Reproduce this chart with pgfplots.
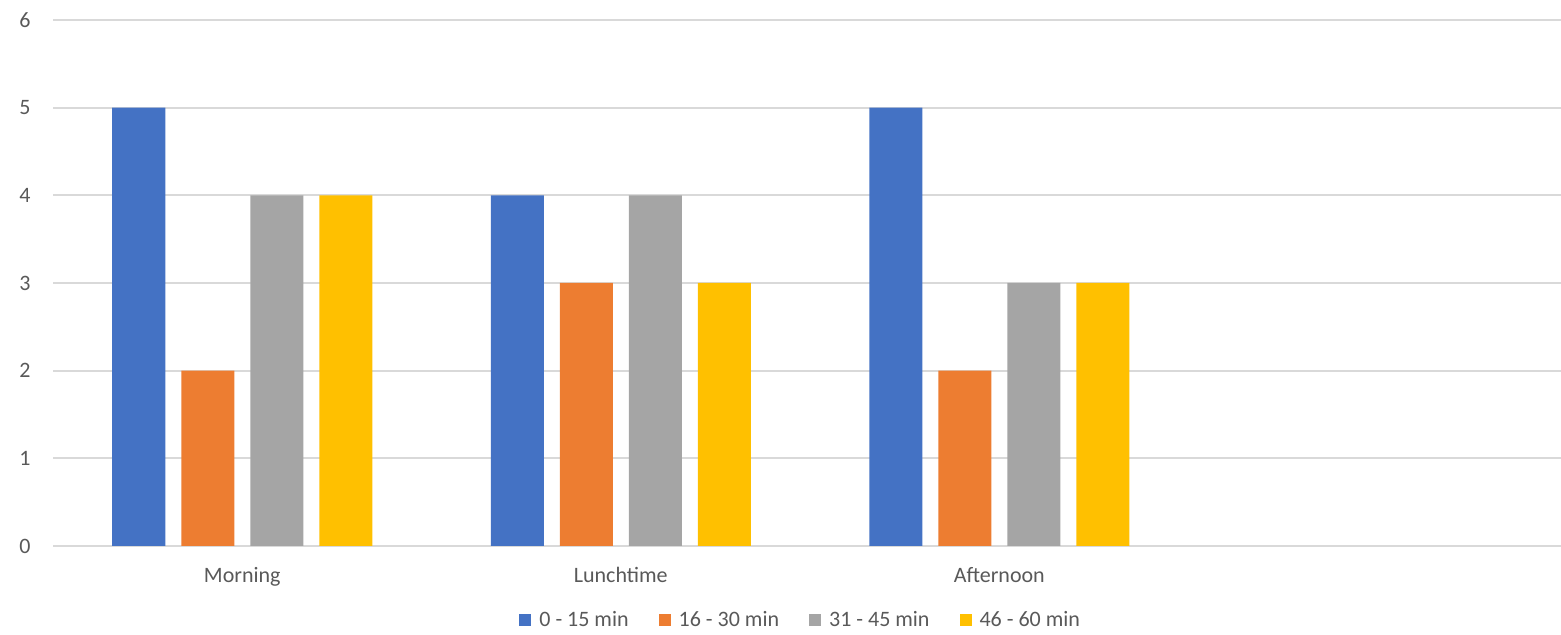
\documentclass[border=0pt]{standalone}
\usepackage{fontspec}
\setmainfont{Carlito}
\usepackage{pgfplots}
\pgfplotsset{compat=1.18}
\definecolor{cBlue}{HTML}{4472C4}
\definecolor{cOrange}{HTML}{ED7D31}
\definecolor{cGray}{HTML}{A5A5A5}
\definecolor{cGold}{HTML}{FFC000}
\definecolor{gridc}{HTML}{D9D9D9}
\definecolor{txt}{HTML}{595959}
\begin{document}
\begin{tikzpicture}
% page is fixed; the plot area runs slightly past the right edge
\useasboundingbox (-26.5pt,-44.5pt) rectangle (754pt,273pt);
\begin{axis}[
  at={(0,0)}, anchor=south west,
  scale only axis, width=757pt, height=263pt,
  ybar=8pt, bar width=26.5pt,
  xmin=-0.5, xmax=3.5,
  ymin=0, ymax=6, ytick={0,...,6},
  xtick={0,1,2,3},
  xticklabels={Morning,Lunchtime,Afternoon,{}},
  axis line style={draw=none},
  major tick length=0pt,
  ymajorgrids, grid style={gridc, line width=1pt},
  /pgf/number format/assume math mode=true,
  tick label style={font=\fontsize{11}{13}\selectfont, text=txt},
  yticklabel style={anchor=east, inner sep=0pt, xshift=-11pt},
  xticklabel style={anchor=base, inner sep=0pt, yshift=-18.5pt},
  legend style={at={(0.4945,0)}, anchor=center, yshift=-37pt, draw=none,
    font=\fontsize{11}{13}\selectfont, text=txt, legend columns=4,
    /tikz/every odd column/.append style={column sep=2pt},
    /tikz/every even column/.append style={column sep=13pt}},
  legend image code/.code={\fill[#1] (-3pt,-3pt) rectangle (3pt,3pt);},
]
\addplot[fill=cBlue, draw=none] coordinates {(0,5) (1,4) (2,5)};
\addplot[fill=cOrange, draw=none] coordinates {(0,2) (1,3) (2,2)};
\addplot[fill=cGray, draw=none] coordinates {(0,4) (1,4) (2,3)};
\addplot[fill=cGold, draw=none] coordinates {(0,4) (1,3) (2,3)};
\legend{0 - 15 min, 16 - 30 min, 31 - 45 min, 46 - 60 min}
\end{axis}
\end{tikzpicture}
\end{document}
